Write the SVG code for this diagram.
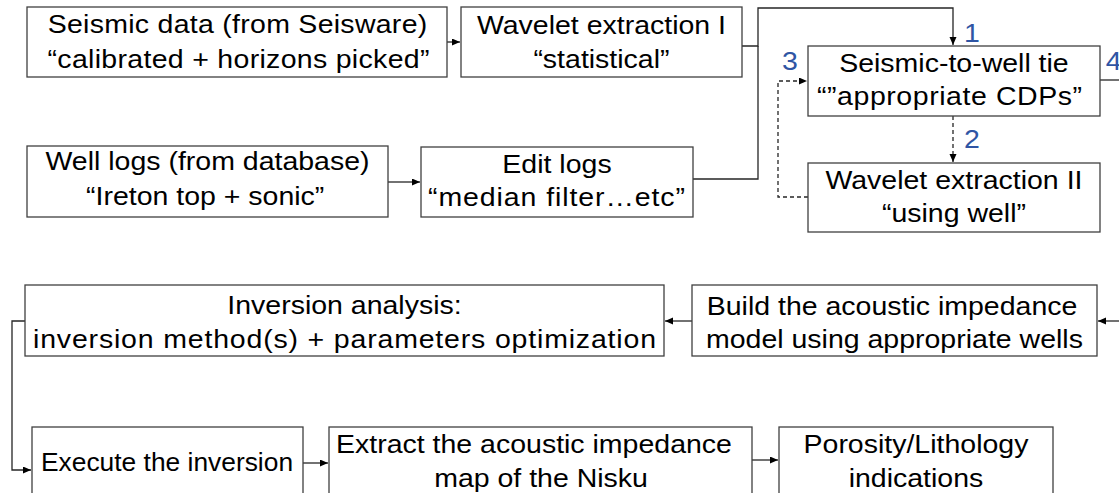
<svg xmlns="http://www.w3.org/2000/svg" width="1119" height="493" viewBox="0 0 1119 493">
<style>
.box{fill:#fff;stroke:#404040;stroke-width:1.3}
.t{font-family:"Liberation Sans",Arial,sans-serif;font-size:25px;fill:#000;text-anchor:middle}
.lbl{font-family:"Liberation Sans",Arial,sans-serif;font-size:25px;fill:#2F55A4;text-anchor:middle}
.c{fill:none;stroke:#262626;stroke-width:1.3}
.d{fill:none;stroke:#262626;stroke-width:1.3;stroke-dasharray:4 3}
</style>
<defs>
<marker id="ah" markerUnits="userSpaceOnUse" markerWidth="9" markerHeight="8" refX="8" refY="3.5" orient="auto">
<path d="M0,0 L8,3.5 L0,7 z" fill="#000"/>
</marker>
</defs>
<rect width="1119" height="493" fill="#fff"/>
<g id="connectors">
<path class="c" d="M447,42 H460" marker-end="url(#ah)"/>
<path class="c" d="M742,46 H758 V8 H953 V45" marker-end="url(#ah)"/>
<path class="c" d="M693,179 H758 V46"/>
<path class="c" d="M388,182 H420" marker-end="url(#ah)"/>
<path class="d" d="M953,116 V162" marker-end="url(#ah)"/>
<path class="d" d="M808,197 H778 V81 H807" marker-end="url(#ah)"/>
<path class="c" d="M1100,80 H1119"/>
<path class="c" d="M1119,321 H1098" marker-end="url(#ah)"/>
<path class="c" d="M692,321 H665" marker-end="url(#ah)"/>
<path class="c" d="M25,321 H12 V470 H31" marker-end="url(#ah)"/>
<path class="c" d="M303,463 H328" marker-end="url(#ah)"/>
<path class="c" d="M752,460 H778" marker-end="url(#ah)"/>
</g>
<g id="n1"><rect class="box" x="27" y="7" width="420" height="70"/>
<g transform="scale(1.14 1)"><text class="t" x="208.3" y="33" textLength="333" lengthAdjust="spacing">Seismic data (from Seisware)</text><text class="t" x="209.2" y="68" textLength="335" lengthAdjust="spacing">“calibrated + horizons picked”</text></g></g>
<g id="n2"><rect class="box" x="461" y="7" width="281" height="70"/>
<g transform="scale(1.14 1)"><text class="t" x="527.6" y="34">Wavelet extraction I</text><text class="t" x="527.6" y="68">“statistical”</text></g></g>
<g id="n3"><rect class="box" x="808" y="46" width="292" height="70"/>
<g transform="scale(1.14 1)"><text class="t" x="836.8" y="72">Seismic-to-well tie</text><text class="t" x="832.9" y="105" textLength="232.5" lengthAdjust="spacing">“”appropriate CDPs”</text></g></g>
<g id="n4"><rect class="box" x="808" y="163" width="292" height="69"/>
<g transform="scale(1.14 1)"><text class="t" x="836.8" y="189">Wavelet extraction II</text><text class="t" x="836.8" y="222">“using well”</text></g></g>
<g id="n5"><rect class="box" x="27" y="146" width="361" height="71"/>
<g transform="scale(1.14 1)"><text class="t" x="182" y="170">Well logs (from database)</text><text class="t" x="180" y="205">“Ireton top + sonic”</text></g></g>
<g id="n6"><rect class="box" x="421" y="147" width="272" height="70"/>
<g transform="scale(1.14 1)"><text class="t" x="488.6" y="173">Edit logs</text><text class="t" x="488.2" y="206" textLength="225.4" lengthAdjust="spacing">“median filter…etc”</text></g></g>
<g id="n7"><rect class="box" x="25" y="285" width="639" height="71"/>
<g transform="scale(1.14 1)"><text class="t" x="302.2" y="314">Inversion analysis:</text><text class="t" x="302.2" y="348" textLength="546.5" lengthAdjust="spacing">inversion method(s) + parameters optimization</text></g></g>
<g id="n8"><rect class="box" x="692" y="285" width="405" height="71"/>
<g transform="scale(1.14 1)"><text class="t" x="782.5" y="315">Build the acoustic impedance</text><text class="t" x="784.6" y="348">model using appropriate wells</text></g></g>
<g id="n9"><rect class="box" x="32" y="427" width="271" height="80"/>
<g transform="scale(1.055 1)"><text class="t" x="158.3" y="471">Execute the inversion</text></g></g>
<g id="n10"><rect class="box" x="329" y="427" width="423" height="80"/>
<g transform="scale(1.14 1)"><text class="t" x="468.4" y="453">Extract the acoustic impedance</text><text class="t" x="474.6" y="487">map of the Nisku</text></g></g>
<g id="n11"><rect class="box" x="779" y="427" width="274" height="80"/>
<g transform="scale(1.14 1)"><text class="t" x="803.5" y="453">Porosity/Lithology</text><text class="t" x="803.5" y="487">indications</text></g></g>
<g id="labels" transform="scale(1.14 1)">
<text class="lbl" x="852.6" y="42">1</text>
<text class="lbl" x="693" y="70">3</text>
<text class="lbl" x="977" y="70">4</text>
<text class="lbl" x="852.6" y="148">2</text>
</g>
</svg>
